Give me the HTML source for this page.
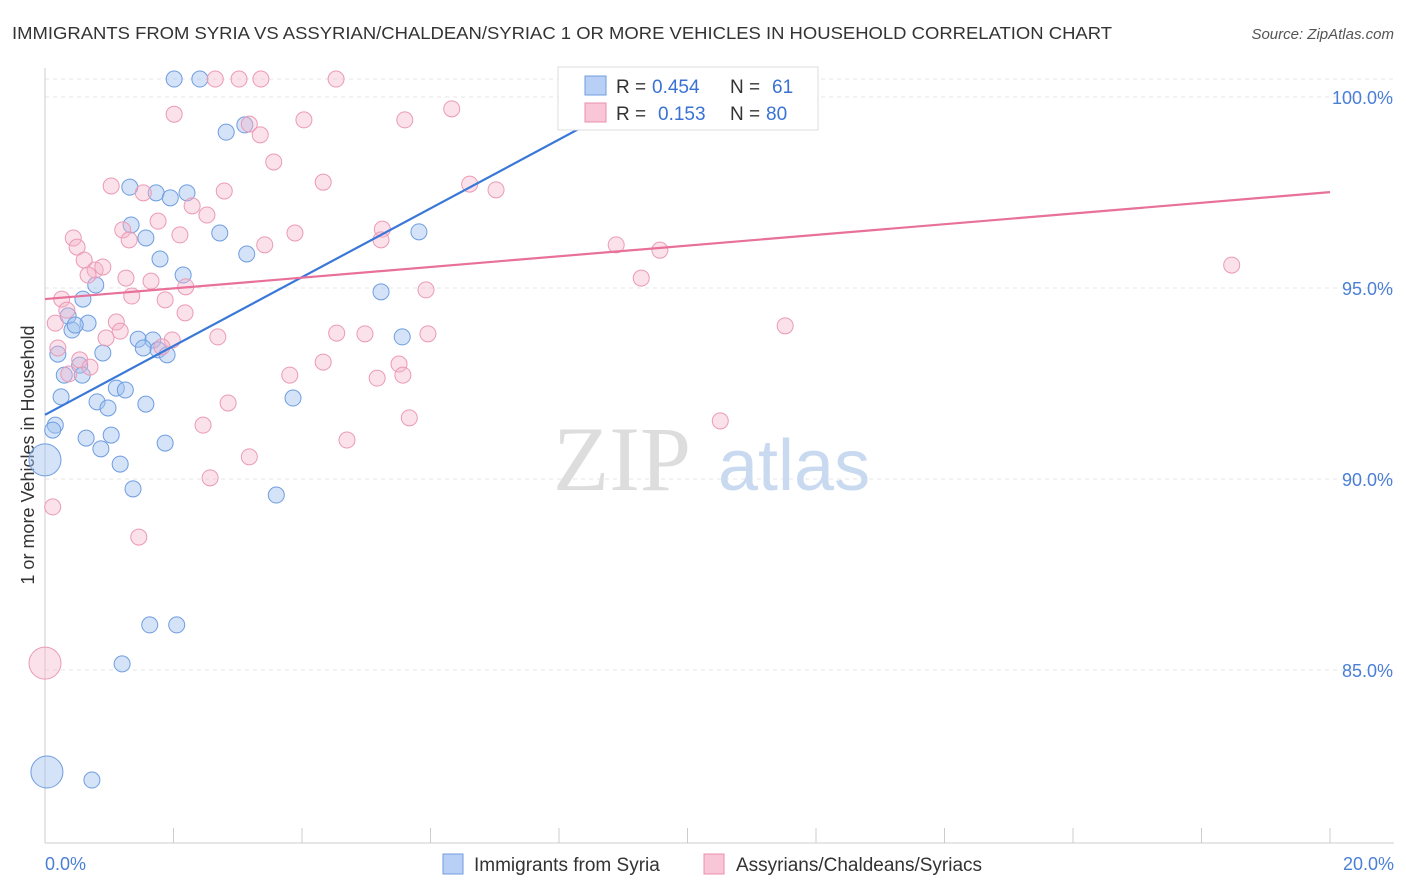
<!DOCTYPE html>
<html><head><meta charset="utf-8"><style>
body{margin:0;background:#fff;font-family:"Liberation Sans",sans-serif;}
svg{display:block}
</style></head><body>
<svg id="chart" width="1406" height="892">
<text x="12" y="39" font-size="17.5" fill="#333" textLength="1100" lengthAdjust="spacingAndGlyphs">IMMIGRANTS FROM SYRIA VS ASSYRIAN/CHALDEAN/SYRIAC 1 OR MORE VEHICLES IN HOUSEHOLD CORRELATION CHART</text>
<text x="1394" y="39" font-size="15" fill="#555" font-style="italic" text-anchor="end">Source: ZipAtlas.com</text>
<text transform="translate(34,455) rotate(-90)" font-size="18" fill="#333" text-anchor="middle">1 or more Vehicles in Household</text>
<g id="grid"></g>
<g id="wm"><text x="553" y="490" font-size="92" fill="#ddd" font-family="Liberation Serif,serif">ZIP</text><text x="718" y="490" font-size="72" fill="#c9daf0">atlas</text></g>
<g id="pts"></g>
<g id="lines"></g>
<text x="45" y="870" font-size="18" fill="#4a7fd6">0.0%</text>
<text x="1394" y="870" font-size="18" fill="#4a7fd6" text-anchor="end">20.0%</text>
<g>
<rect x="558" y="67" width="260" height="63" fill="#fff" stroke="#ddd"/>
<rect x="585" y="76" width="21" height="19" fill="#b8d0f5" stroke="#6f9de0"/>
<rect x="585" y="103" width="21" height="19" fill="#f8c6d6" stroke="#e890ae"/>
<text x="616" y="93" font-size="19" fill="#333">R =</text>
<text x="652" y="93" font-size="19" fill="#3a72d4">0.454</text>
<text x="730" y="93" font-size="19" fill="#333">N =</text>
<text x="772" y="93" font-size="19" fill="#3a72d4">61</text>
<text x="616" y="120" font-size="19" fill="#333">R =</text>
<text x="658" y="120" font-size="19" fill="#3a72d4">0.153</text>
<text x="730" y="120" font-size="19" fill="#333">N =</text>
<text x="766" y="120" font-size="19" fill="#3a72d4">80</text>
</g>
<g>
<rect x="443" y="854" width="20" height="20" fill="#b8d0f5" stroke="#6f9de0"/>
<text x="474" y="871" font-size="19" fill="#333">Immigrants from Syria</text>
<rect x="704" y="854" width="20" height="20" fill="#f8c6d6" stroke="#e890ae"/>
<text x="736" y="871" font-size="19" fill="#333">Assyrians/Chaldeans/Syriacs</text>
</g>
</svg>
<script>
const yTicks=[100,95,90,85];
const yTickLabels=["100.0%","95.0%","90.0%","85.0%"];
const xTicks=[0,2,4,6,8,10,12,14,16,18,20];
const blueX=[2.01,2.41,2.82,3.11,1.32,1.73,1.95,2.21,1.34,1.57,2.72,3.14,1.79,2.15,0.79,0.59,0.36,0.67,0.42,0.47,0.20,0.90,0.54,0.30,0.58,0.25,0.81,1.11,1.25,0.98,1.57,1.45,1.68,1.53,1.76,1.90,0.16,0.12,0.64,1.03,0.87,1.17,1.87,1.37,3.60,3.86,5.23,5.56,5.82,0.0,1.63,2.05,1.20,0.03,0.73,8.64,9.73];
const blueY=[100.47,100.47,99.08,99.27,97.64,97.49,97.36,97.49,96.65,96.31,96.44,95.89,95.76,95.34,95.08,94.71,94.27,94.08,93.90,94.03,93.27,93.30,92.98,92.72,92.72,92.15,92.02,92.38,92.33,91.86,91.96,93.66,93.64,93.43,93.38,93.25,91.41,91.28,91.07,91.15,90.79,90.39,90.94,89.74,89.58,92.12,94.90,93.72,96.47,90.50,86.18,86.18,85.16,82.33,82.12,100.47,100.31];
const blueBig=[49,53];
const pinkX=[2.01,2.65,3.02,3.36,4.53,3.18,3.35,4.03,5.60,6.33,3.56,4.33,1.03,1.53,2.79,2.29,2.52,1.76,1.21,1.31,2.10,3.42,3.89,5.25,5.23,8.89,9.57,0.44,0.50,0.61,0.78,0.90,0.67,1.26,1.65,2.19,1.35,1.87,0.26,0.34,2.18,1.11,0.16,1.17,0.95,1.98,2.69,1.82,0.20,0.54,0.70,0.37,4.33,3.81,5.17,5.51,5.57,4.54,4.98,5.93,5.96,6.61,7.02,9.28,18.47,11.52,2.85,2.46,3.18,2.57,4.70,5.67,10.51,0.12,1.46,0.0,11.0];
const pinkY=[99.55,100.47,100.47,100.47,100.47,99.29,99.01,99.40,99.40,99.69,98.30,97.77,97.67,97.49,97.54,97.15,96.91,96.75,96.52,96.26,96.39,96.13,96.44,96.54,96.26,96.13,95.99,96.31,96.07,95.73,95.47,95.55,95.34,95.26,95.18,95.03,94.79,94.69,94.71,94.42,94.35,94.11,94.08,93.87,93.69,93.64,93.72,93.46,93.43,93.12,92.93,92.75,93.06,92.72,92.64,93.01,92.72,93.82,93.80,94.95,93.80,97.72,97.57,95.26,95.60,94.01,91.99,91.41,90.58,90.03,91.02,91.60,91.52,89.27,88.48,85.18,99.45];
const pinkBig=[75];
const blueTrend=[[0,91.68],[9.88,100.58]];
const pinkTrend=[[0,94.71],[20,97.51]];
const X=v=>45+v*64.25, Y=v=>97+(100-v)*38.2;
const NS="http://www.w3.org/2000/svg";
function mk(t,a,p){const e=document.createElementNS(NS,t);for(const k in a)e.setAttribute(k,a[k]);p.appendChild(e);return e;}
const grid=document.getElementById('grid');
mk('line',{x1:45,x2:1394,y1:79,y2:79,stroke:'#e4e4e4','stroke-dasharray':'4,4'},grid);
yTicks.forEach((t,i)=>{
 const l=mk('line',{x1:45,x2:1394,y1:Y(t),y2:Y(t),stroke:'#e4e4e4','stroke-dasharray':'4,4'},grid);
 
 
 const tx=mk('text',{x:1393,y:Y(t)+7,'font-size':18,fill:'#4a7fd6','text-anchor':'end'},grid);
 tx.textContent=yTickLabels[i];
 
 
});
mk('line',{x1:45,x2:45,y1:68,y2:843,stroke:'#ccc'},grid);
mk('line',{x1:45,x2:1394,y1:843,y2:843,stroke:'#ccc'},grid);
xTicks.forEach(t=>{
 const l=mk('line',{x1:X(t),x2:X(t),y1:828,y2:843,stroke:'#ccc'},grid);
 
 
});
const pts=document.getElementById('pts');
blueX.forEach((x,i)=>{
 const big=blueBig.includes(i);
 const c=mk('circle',{cx:X(x),cy:Y(blueY[i]),r:big?16:8,fill:'rgba(160,192,240,0.45)',stroke:'#6f9de0','stroke-width':1},pts);
 
 
});
pinkX.forEach((x,i)=>{
 const big=pinkBig.includes(i);
 const c=mk('circle',{cx:X(x),cy:Y(pinkY[i]),r:big?16:8,fill:'rgba(246,180,202,0.4)',stroke:'#eb9ab5','stroke-width':1},pts);
 
 
});
const lines=document.getElementById('lines');
const bl=mk('line',{x1:X(blueTrend[0][0]),y1:Y(blueTrend[0][1]),x2:X(blueTrend[1][0]),y2:Y(blueTrend[1][1]),stroke:'#3a78d8','stroke-width':2.2},lines);


const pl=mk('line',{x1:X(pinkTrend[0][0]),y1:Y(pinkTrend[0][1]),x2:X(pinkTrend[1][0]),y2:Y(pinkTrend[1][1]),stroke:'#e8709a','stroke-width':2.2},lines);


</script>
</body></html>
